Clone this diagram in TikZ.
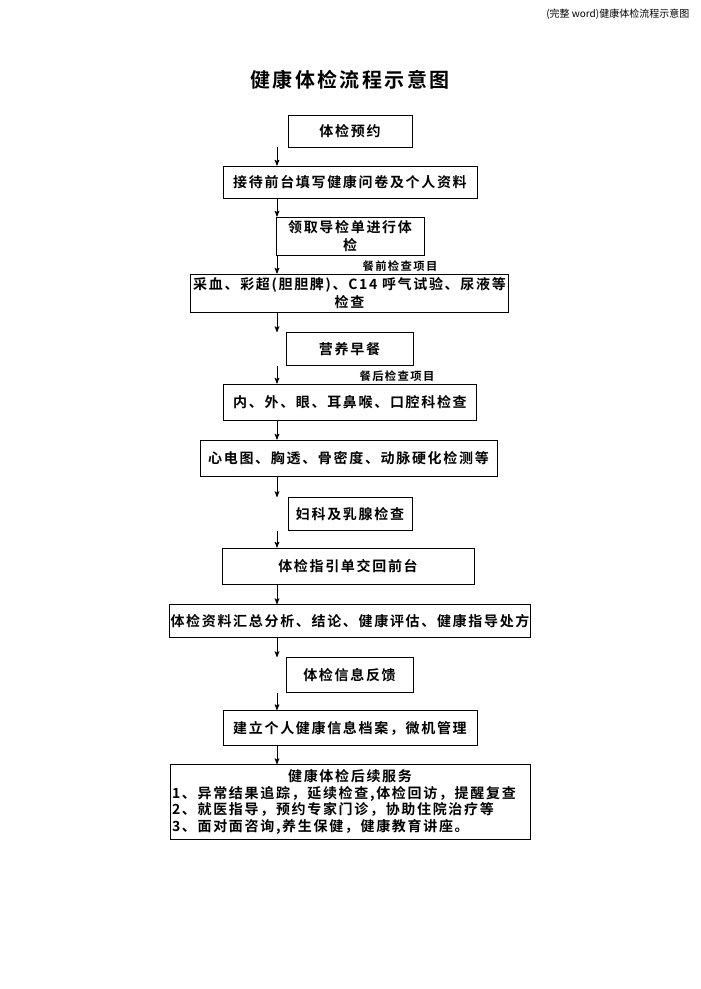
\documentclass[tikz,border=0pt]{standalone}
\usepackage{fontspec}
\setmainfont{Noto Sans CJK SC}[LetterSpace=12, BoldFont={Noto Sans CJK SC Bold}]
\newfontfamily\headfont{Noto Sans CJK SC}
\usetikzlibrary{arrows,positioning,calc}

\begin{document}
\begin{tikzpicture}[
        x=0.75pt, y=-0.75pt,
        box/.style={draw=black, semithick, inner sep=1pt, font=\fontsize{10.5}{14}\selectfont\bfseries},
        arr/.style={semithick, -{stealth'[scale=1.4]}},
        note/.style={font=\fontsize{8.5}{10}\selectfont\bfseries},
    ]
    \useasboundingbox (0,0) rectangle (700,989);
    % header and title
    \node[font=\fontsize{7.5}{9}\selectfont\headfont, anchor=north east] (head) at (694,4) {(完整 word)健康体检流程示意图};
    \node[font=\fontsize{15}{18}\selectfont\bfseries] (title) at (350,80) {健康体检流程示意图};
    % boxes
    \node[box, minimum width=124*0.75pt, minimum height=32*0.75pt] (b1) at (350,131) {体检预约};
    \node[box, minimum width=254*0.75pt, minimum height=32*0.75pt] (b2) at (350,182) {接待前台填写健康问卷及个人资料};
    \node[box, minimum width=148*0.75pt, minimum height=38*0.75pt, text width=140*0.75pt, align=center] (b3) at (350,236) {领取导检单进行体\\检};
    \node[box, minimum width=317*0.75pt, minimum height=38*0.75pt, text width=315*0.75pt, align=center] (b4) at (349.5,293) {采血、彩超(胆胆脾)、C14 呼气试验、尿液等\\检查};
    \node[box, minimum width=127*0.75pt, minimum height=33*0.75pt] (b5) at (349.5,349) {营养早餐};
    \node[box, minimum width=253*0.75pt, minimum height=36*0.75pt] (b6) at (350,402) {内、外、眼、耳鼻喉、口腔科检查};
    \node[box, minimum width=297*0.75pt, minimum height=36*0.75pt] (b7) at (348.5,458) {心电图、胸透、骨密度、动脉硬化检测等};
    \node[box, minimum width=124*0.75pt, minimum height=33*0.75pt] (b8) at (350,514) {妇科及乳腺检查};
    \node[box, minimum width=252*0.75pt, minimum height=36*0.75pt] (b9) at (348,566) {体检指引单交回前台};
    \node[box, minimum width=360*0.75pt, minimum height=33*0.75pt] (b10) at (350,621) {体检资料汇总分析、结论、健康评估、健康指导处方};
    \node[box, minimum width=127*0.75pt, minimum height=35*0.75pt] (b11) at (349.5,675) {体检信息反馈};
    \node[box, minimum width=254*0.75pt, minimum height=35*0.75pt] (b12) at (350,728) {建立个人健康信息档案，微机管理};
    \node[box, minimum width=360*0.75pt, minimum height=75*0.75pt, text width=356*0.75pt, align=left,
          font=\fontsize{10.5}{12.5}\selectfont\bfseries] (b13) at (350,802)
        {\makebox[\linewidth]{健康体检后续服务}\\
         1、异常结果追踪，延续检查,体检回访，提醒复查\\
         2、就医指导，预约专家门诊，协助住院治疗等\\
         3、面对面咨询,养生保健，健康教育讲座。};
    % side notes
    \node[note] (pre) at (400,266) {餐前检查项目};
    \node[note] (post) at (397,376) {餐后检查项目};
    % arrows
    \foreach \a/\b in {b1/b2,b2/b3,b3/b4,b4/b5,b5/b6,b6/b7,b7/b8,b8/b9,b9/b10,b10/b11,b11/b12,b12/b13}
        \draw[arr] (\a.south -| 277,0) -- (\b.north -| 277,0);
\end{tikzpicture}
\end{document}
